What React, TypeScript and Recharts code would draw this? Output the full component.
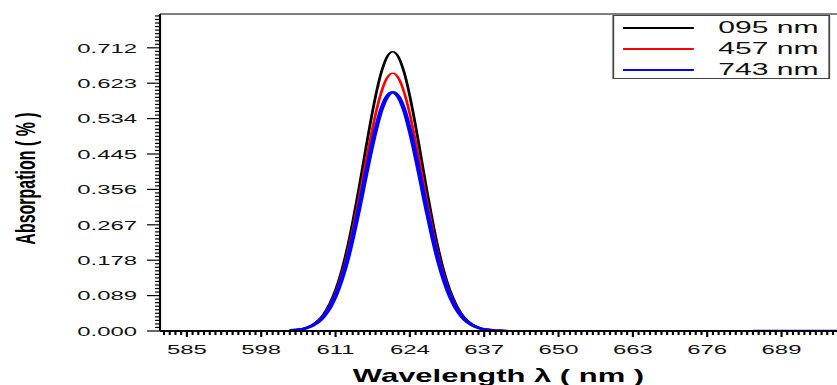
import {
  LineChart,
  Line,
  XAxis,
  YAxis,
  Legend,
  ReferenceLine,
} from "recharts";

// wavelengths (nm); 662 is a gap marker between the peak and the tail at the right
const wavelength = [
  603, 604, 605, 606, 607, 608, 609, 610, 611, 612, 613, 614, 615, 616, 617,
  618, 619, 620, 621, 622, 623, 624, 625, 626, 627, 628, 629, 630, 631, 632,
  633, 634, 635, 636, 637, 638, 639, 640, 641, 662, 684, 685, 686, 687, 688,
  689, 690, 691, 692, 693, 694, 695, 696, 697, 698, 699,
];

const abs095 = [
  0.001, 0.003, 0.005, 0.009, 0.016, 0.027, 0.044, 0.069, 0.103, 0.148, 0.205,
  0.274, 0.351, 0.434, 0.516, 0.59, 0.65, 0.689, 0.702, 0.689, 0.65, 0.59,
  0.516, 0.434, 0.351, 0.274, 0.205, 0.148, 0.103, 0.069, 0.044, 0.027, 0.016,
  0.009, 0.005, 0.003, 0.001, 0.001, 0, null, null, null, null, null, null,
  null, null, null, null, null, null, null, null, null, null, null,
];

const abs457 = [
  0.001, 0.003, 0.005, 0.008, 0.015, 0.025, 0.041, 0.064, 0.095, 0.137, 0.189,
  0.253, 0.324, 0.401, 0.476, 0.545, 0.6, 0.636, 0.648, 0.636, 0.6, 0.545,
  0.476, 0.401, 0.324, 0.253, 0.189, 0.137, 0.095, 0.064, 0.041, 0.025, 0.015,
  0.008, 0.005, 0.003, 0.001, 0.001, 0, null, null, null, null, null, null,
  null, null, null, null, null, null, 0, 0, 0, 0, 0,
];

const abs743 = [
  0.001, 0.003, 0.004, 0.008, 0.014, 0.023, 0.038, 0.059, 0.088, 0.127, 0.175,
  0.234, 0.3, 0.371, 0.441, 0.504, 0.556, 0.589, 0.6, 0.589, 0.556, 0.504,
  0.441, 0.371, 0.3, 0.234, 0.175, 0.127, 0.088, 0.059, 0.038, 0.023, 0.014,
  0.008, 0.004, 0.003, 0.001, 0.001, 0, null, 0, 0, 0, 0, 0, 0, 0, 0, 0, 0,
  0, 0, 0, 0, 0, 0,
];

const seriesNames = ["095 nm", "457 nm", "743 nm"];
const seriesColors = ["#000000", "#ff0000", "#0000ff"];

const xTicks = [585, 598, 611, 624, 637, 650, 663, 676, 689];
const yTicks = [0, 0.089, 0.178, 0.267, 0.356, 0.445, 0.534, 0.623, 0.712];

const X_DOMAIN: [number, number] = [580.3, 698.7];
const Y_MAX = 0.797;

// minor ticks every 1 nm and every 0.0089 (ten per labelled step)
const xAll = Array.from({ length: 118 }, (_, i) => 581 + i);
const yAll = Array.from({ length: 90 }, (_, i) => +(i * 0.0089).toFixed(4));

const data = wavelength.map((w, i) => ({
  w,
  a: abs095[i],
  b: abs457[i],
  c: abs743[i],
}));

// the picture is stretched horizontally, so the chart is drawn narrow and scaled
const S = 1.77;
const W = 837 / S;
const FONT = "'Liberation Sans', Arial, sans-serif";

const isMajorY = (v: number) => yTicks.some((t) => Math.abs(t - v) < 1e-6);

const XTick = ({ x, y, payload }: any) => {
  const major = xTicks.includes(payload.value);
  return (
    <g>
      <line x1={x} x2={x} y1={y} y2={y + (major ? 6 : 4)} stroke="#000" strokeWidth={1.2} />
      {major && (
        <text
          x={x}
          y={y + 13.5}
          dy="0.71em"
          textAnchor="middle"
          fill="#111"
          fontSize={13.5}
          fontFamily={FONT}
        >
          {payload.value}
        </text>
      )}
    </g>
  );
};

const YTick = ({ x, y, payload }: any) => {
  const major = isMajorY(payload.value);
  return (
    <g>
      <line x1={x - (major ? 7.3 : 2.8)} x2={x} y1={y} y2={y} stroke="#000" strokeWidth={1.2} />
      {major && (
        <text
          x={x - 13}
          y={y}
          dy="0.355em"
          textAnchor="end"
          fill="#111"
          fontSize={13.5}
          fontFamily={FONT}
        >
          {payload.value.toFixed(3)}
        </text>
      )}
    </g>
  );
};

const LegendBox = ({ payload }: any) => (
  <div
    style={{
      width: 123.7,
      height: 64,
      boxSizing: "border-box",
      border: "1px solid #444",
      background: "#fff",
      position: "relative",
    }}
  >
    {(payload || []).map((p: any, i: number) => (
      <div
        key={p.value}
        style={{
          position: "absolute",
          left: 0,
          top: 1 + i * 21,
          height: 21,
          width: "100%",
        }}
      >
        <div
          style={{
            position: "absolute",
            left: 5,
            top: 10,
            width: 40,
            height: 2,
            background: p.color,
          }}
        />
        <span
          style={{
            position: "absolute",
            left: 59,
            top: 0,
            fontFamily: FONT,
            fontSize: 17,
            lineHeight: "21px",
            color: "#111",
          }}
        >
          {p.value}
        </span>
      </div>
    ))}
  </div>
);

export default function App() {
  return (
    <div
      style={{
        position: "absolute",
        left: 0,
        top: 0,
        width: 837,
        height: 385,
        overflow: "hidden",
        background: "#fff",
      }}
    >
      <div style={{ transform: `scaleX(${S})`, transformOrigin: "0 0", width: W, height: 385 }}>
        <LineChart
          width={W}
          height={385}
          data={data}
          margin={{ top: 14, right: 0, bottom: 0, left: 0 }}
          style={{ fontFamily: FONT }}
        >
          <XAxis
            dataKey="w"
            type="number"
            domain={X_DOMAIN}
            allowDataOverflow
            ticks={xAll}
            interval={0}
            tickSize={0}
            tickMargin={0}
            tickLine={false}
            tick={<XTick />}
            height={54}
            axisLine={{ stroke: "#000", strokeWidth: 2 }}
            label={{
              value: "Wavelength \u03bb ( nm )",
              position: "insideBottom",
              offset: 3,
              fill: "#000",
              fontSize: 17.5,
              fontWeight: "bold",
              fontFamily: FONT,
            }}
          />
          <YAxis
            type="number"
            domain={[0, Y_MAX]}
            allowDataOverflow
            ticks={yAll}
            interval={0}
            tickSize={0}
            tickMargin={0}
            tickLine={false}
            tick={<YTick />}
            width={90.4}
            axisLine={{ stroke: "#000", strokeWidth: 1.2 }}
            label={{
              value: "Absorpation ( % )",
              angle: -90,
              position: "center",
              dx: -31,
              dy: 6,
              fill: "#000",
              fontSize: 16,
              fontWeight: "bold",
              fontFamily: FONT,
            }}
          />
          <ReferenceLine y={Y_MAX} stroke="#000" strokeWidth={1} ifOverflow="visible" />
          <Line
            dataKey="a"
            name={seriesNames[0]}
            stroke={seriesColors[0]}
            strokeWidth={1.6}
            type="monotone"
            dot={false}
            isAnimationActive={false}
          />
          <Line
            dataKey="b"
            name={seriesNames[1]}
            stroke={seriesColors[1]}
            strokeWidth={1.6}
            type="monotone"
            dot={false}
            isAnimationActive={false}
          />
          <Line
            dataKey="c"
            name={seriesNames[2]}
            stroke={seriesColors[2]}
            strokeWidth={2.6}
            type="monotone"
            dot={false}
            isAnimationActive={false}
          />
          <Legend
            layout="vertical"
            align="center"
            verticalAlign="middle"
            content={<LegendBox />}
            wrapperStyle={{ position: "absolute", left: 345.8, top: 15, width: 123.7, height: 64 }}
          />
        </LineChart>
      </div>
    </div>
  );
}
